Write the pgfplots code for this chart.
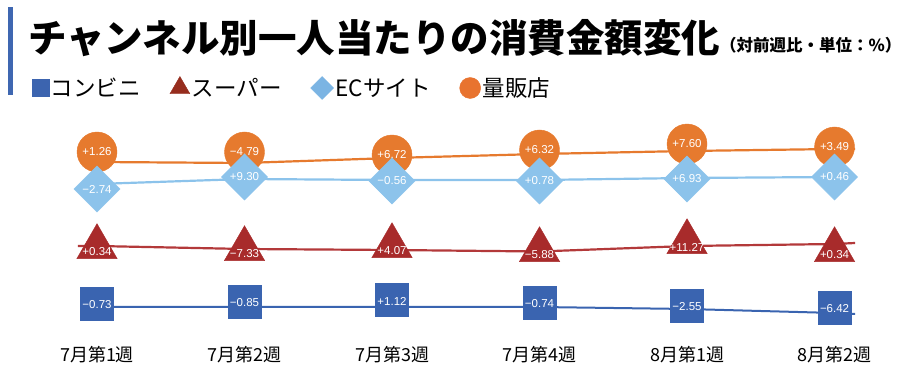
\documentclass[border=0pt]{standalone}
\usepackage{fontspec}
\setmainfont{Liberation Sans}
\newfontfamily\cjk{Noto Sans CJK JP}
\usepackage{pgfplots}
\pgfplotsset{compat=1.18}
\definecolor{cOrange}{HTML}{E67A2E}
\definecolor{cLBlue}{HTML}{8CC3EB}
\definecolor{cRed}{HTML}{A82B2B}
\definecolor{cRedLine}{HTML}{B3393A}
\definecolor{cBlue}{HTML}{3A64B0}
\definecolor{cBar}{HTML}{3F67B1}
\definecolor{lgBlue}{HTML}{3C64AF}
\definecolor{lgRed}{HTML}{962D1E}
\definecolor{lgLBlue}{HTML}{7BB4E3}
\definecolor{lgOrange}{HTML}{E8732F}
\pgfplotsset{
  lbl/.style={nodes near coords, point meta=explicit symbolic,
    nodes near coords style={anchor=center, text=white, font=\fontsize{11.5}{13}\selectfont, inner sep=0pt}},
}
\begin{document}
\begin{tikzpicture}
\path[use as bounding box] (0,0) rectangle (908pt,382pt);
\fill[cBar] (8pt,287pt) rectangle (13pt,375pt);
\node[anchor=west, inner sep=0pt] at (28pt,344pt) {\cjk\bfseries\fontsize{38.5}{42}\selectfont チャンネル別一人当たりの消費金額変化};
\node[anchor=west, inner sep=0pt] at (720pt,336.5pt) {\cjk\bfseries\fontsize{16.5}{19}\selectfont （対前週比・単位：\%）};
\begin{axis}[at={(0pt,42pt)}, anchor=south west, scale only axis,
  width=908pt, height=220pt,
  xmin=-0.6576, xmax=5.498, ymin=42, ymax=262, clip=false,
  axis line style={draw=none}, major tick length=0pt, ytick=\empty,
  xtick={0,1,2,3,4,5},
  xticklabels={7月第1週,7月第2週,7月第3週,7月第4週,8月第1週,8月第2週},
  xticklabel style={font=\cjk\fontsize{18}{20}\selectfont, anchor=center, yshift=-15pt},
  legend columns=4,
  legend style={at={(0.0352,1.1455)}, anchor=west, draw=none, fill=none,
    inner sep=0pt, outer sep=0pt, font=\cjk\fontsize{22.5}{25}\selectfont,
    nodes={inner sep=2pt},
    /tikz/every even column/.append style={column sep=27pt}},
]
% lines
\addplot[cOrange, line width=2.2pt, forget plot] coordinates {(0,220) (1,219) (2,224) (3,228) (4,231) (5,233) (5.139,233)};
\addplot[cLBlue, line width=2.2pt, forget plot] coordinates {(0,198) (1,203) (2,202) (3,202) (4,204) (5,205) (5.139,205)};
\addplot[cBlue, line width=2pt, forget plot] coordinates {(0,75) (1,75) (2,75) (3,75) (4,73) (5,69) (5.139,68)};
% markers
\addplot[only marks, mark=*, mark size=20pt, color=cOrange, forget plot, lbl]
  coordinates {(0,230) [+1.26] (1,230) [−4.79] (2,227) [+6.72] (3,232) [+6.32] (4,238) [+7.60] (5,235) [+3.49]};
\addplot[only marks, mark=square*, mark options={rotate=45}, mark size=16.3pt, color=cLBlue, forget plot, lbl]
  coordinates {(0,193) [−2.74] (1,205) [+9.30] (2,201) [−0.56] (3,201) [+0.78] (4,203) [+6.93] (5,205) [+0.46]};
\addplot[only marks, mark=triangle*, mark size=23.3pt, color=cRed, forget plot, lbl,
  nodes near coords style={yshift=-5pt}]
  coordinates {(0,135) [+0.34] (1,133) [−7.33] (2,136) [+4.07] (3,132) [−5.88] (4,140) [+11.27] (5,132) [+0.34]};
\addplot[cRedLine, line width=2.2pt, forget plot] coordinates {(-0.13,136) (0,136) (1,133) (2,132) (3,130.5) (4,136) (5,138) (5.139,139)};
\addplot[only marks, mark=square*, mark size=16.5pt, color=cBlue, forget plot, lbl,
  nodes near coords style={yshift=-1pt}]
  coordinates {(0,78) [−0.73] (1,80) [−0.85] (2,82) [+1.12] (3,79) [−0.74] (4,76.5) [−2.55] (5,74.5) [−6.42]};
% legend
\addlegendimage{only marks, mark=square*, mark size=8.5pt, color=lgBlue}
\addlegendentry{コンビニ}
\addlegendimage{only marks, mark=triangle*, mark size=11.5pt, color=lgRed}
\addlegendentry{スーパー}
\addlegendimage{only marks, mark=square*, mark options={rotate=45}, mark size=8.1pt, color=lgLBlue}
\addlegendentry{ECサイト}
\addlegendimage{only marks, mark=*, mark size=10.5pt, color=lgOrange}
\addlegendentry{量販店}
\end{axis}
\end{tikzpicture}
\end{document}
